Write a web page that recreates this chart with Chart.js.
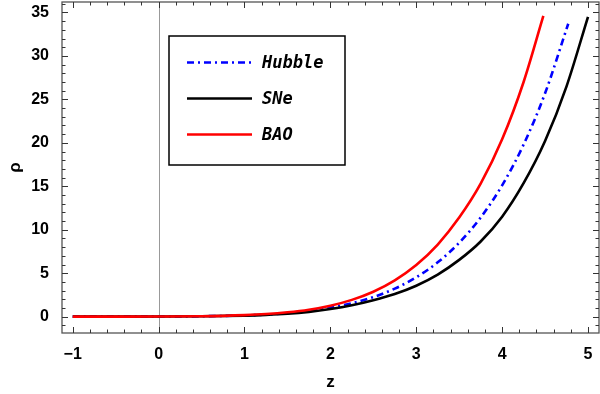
<!DOCTYPE html>
<html>
<head>
<meta charset="utf-8">
<script src="https://cdn.jsdelivr.net/npm/chart.js@4/dist/chart.umd.min.js"></script>
<style>
  html, body { margin: 0; padding: 0; background: #fff; }
  #wrap { width: 600px; height: 394px; position: relative; }
</style>
</head>
<body>
<div id="wrap"><canvas id="rhoChart"></canvas></div>
<script>
// values
const hubbleZ   = [-1, -0.5, 0, 0.5, 1, 1.25, 1.5, 1.75, 2, 2.25, 2.5, 2.75, 3, 3.25, 3.5, 3.75, 4, 4.25, 4.5, 4.77];
const hubbleRho = [0, 0, 0.01, 0.05, 0.14, 0.24, 0.4, 0.66, 1.04, 1.55, 2.25, 3.22, 4.53, 6.25, 8.5, 11.4, 15.1, 19.8, 25.7, 33.7];

const sneZ   = [-1, -0.5, 0, 0.5, 1, 1.25, 1.5, 1.75, 2, 2.25, 2.5, 2.75, 3, 3.25, 3.5, 3.75, 4, 4.25, 4.5, 4.75, 5];
const sneRho = [0, 0, 0.01, 0.04, 0.12, 0.2, 0.33, 0.55, 0.88, 1.32, 1.9, 2.61, 3.56, 4.84, 6.53, 8.65, 11.5, 15.35, 20.2, 26.5, 34.5];

const baoZ   = [-1, -0.5, 0, 0.5, 1, 1.25, 1.5, 1.75, 2, 2.25, 2.5, 2.75, 3, 3.25, 3.5, 3.75, 4, 4.25, 4.48];
const baoRho = [0, 0, 0.01, 0.05, 0.18, 0.3, 0.5, 0.8, 1.26, 1.93, 2.87, 4.18, 5.94, 8.3, 11.4, 15.3, 20.4, 27.0, 34.6];

const xTickValues = [-1, 0, 1, 2, 3, 4, 5];
const xTickLabels = ['\u22121', '0', '1', '2', '3', '4', '5'];
const yTickValues = [0, 5, 10, 15, 20, 25, 30, 35];
const yTickLabels = ['0', '5', '10', '15', '20', '25', '30', '35'];

const legendNames = ['Hubble', 'SNe', 'BAO'];

function toPoints(xs, ys) {
    return xs.map((x, i) => ({ x: x, y: ys[i] }));
}

const tickFont = { family: "'Liberation Sans', Arial, sans-serif", size: 16, weight: 'bold' };

// frame, inward ticks, zero line and the boxed legend, drawn by hand like the original
const framePlugin = {
    id: 'frame',
    beforeDatasetsDraw(chart) {
        const ctx = chart.ctx, a = chart.chartArea, xs = chart.scales.x;
        const x0 = Math.round(xs.getPixelForValue(0)) + 0.5;
        ctx.save();
        ctx.strokeStyle = '#999';
        ctx.lineWidth = 1;
        ctx.beginPath();
        ctx.moveTo(x0, a.top);
        ctx.lineTo(x0, a.bottom);
        ctx.stroke();
        ctx.restore();
    },
    afterDatasetsDraw(chart) {
        const ctx = chart.ctx, a = chart.chartArea;
        const xs = chart.scales.x, ys = chart.scales.y;
        ctx.save();
        ctx.strokeStyle = '#555';
        ctx.lineWidth = 1.3;
        ctx.strokeRect(a.left, a.top, a.right - a.left, a.bottom - a.top);

        ctx.lineWidth = 1;
        ctx.strokeStyle = '#333';
        ctx.beginPath();
        // x ticks, minor every 0.2
        for (let k = -5; k <= 25; k++) {
            const v = k / 5;
            const px = Math.round(xs.getPixelForValue(v)) + 0.5;
            const len = (k % 5 === 0) ? 6 : 3.5;
            ctx.moveTo(px, a.bottom); ctx.lineTo(px, a.bottom - len);
            ctx.moveTo(px, a.top); ctx.lineTo(px, a.top + len);
        }
        // y ticks, minor every 1
        for (let v = -1; v <= 36; v++) {
            const py = Math.round(ys.getPixelForValue(v)) + 0.5;
            const len = (v % 5 === 0) ? 6 : 3.5;
            ctx.moveTo(a.left, py); ctx.lineTo(a.left + len, py);
            ctx.moveTo(a.right, py); ctx.lineTo(a.right - len, py);
        }
        ctx.stroke();

        // legend box
        const bx = 169, by = 36, bw = 176, bh = 129;
        ctx.fillStyle = '#fff';
        ctx.fillRect(bx, by, bw, bh);
        ctx.strokeStyle = '#000';
        ctx.lineWidth = 1.5;
        ctx.strokeRect(bx, by, bw, bh);

        const rows = [62.5, 98.5, 134.5];
        const sets = chart.data.datasets;
        ctx.font = "italic bold 17px 'DejaVu Sans Mono', monospace";
        ctx.textBaseline = 'middle';
        ctx.textAlign = 'left';
        legendNames.forEach((name, i) => {
            const ds = sets.find(d => d.label === name);
            ctx.strokeStyle = ds.borderColor;
            ctx.lineWidth = ds.borderWidth;
            ctx.setLineDash(ds.borderDash || []);
            ctx.beginPath();
            ctx.moveTo(187, rows[i]);
            ctx.lineTo(252, rows[i]);
            ctx.stroke();
            ctx.setLineDash([]);
            ctx.fillStyle = '#000';
            ctx.fillText(name, 262, rows[i] + 1);
        });
        ctx.restore();
    }
};

const ctx = document.getElementById('rhoChart').getContext('2d');

new Chart(ctx, {
    type: 'line',
    data: {
        datasets: [
            {
                label: 'BAO',
                data: toPoints(baoZ, baoRho),
                borderColor: '#ff0000',
                borderWidth: 2.6,
                order: 0
            },
            {
                label: 'SNe',
                data: toPoints(sneZ, sneRho),
                borderColor: '#000000',
                borderWidth: 2.6,
                order: 1
            },
            {
                label: 'Hubble',
                data: toPoints(hubbleZ, hubbleRho),
                borderColor: '#0000ff',
                borderWidth: 2.6,
                borderDash: [7, 4, 2, 4],
                order: 2
            }
        ]
    },
    options: {
        responsive: true,
        maintainAspectRatio: false,
        animation: false,
        layout: { padding: { top: 2, right: 1, left: 0, bottom: 0 } },
        elements: {
            point: { radius: 0 },
            line: { cubicInterpolationMode: 'monotone', fill: false }
        },
        plugins: {
            legend: { display: false },
            tooltip: { enabled: false }
        },
        scales: {
            x: {
                type: 'linear',
                min: -1.125,
                max: 5.128,
                grid: { display: false },
                border: { display: false },
                afterBuildTicks: s => { s.ticks = xTickValues.map(v => ({ value: v })); },
                afterFit: s => { s.height = 61; s.paddingLeft = 0; s.paddingRight = 0; },
                ticks: {
                    autoSkip: false,
                    maxRotation: 0,
                    padding: 4,
                    color: '#000',
                    font: tickFont,
                    callback: (v, i) => xTickLabels[i]
                },
                title: {
                    display: true,
                    text: 'z',
                    color: '#000',
                    font: { family: "'Liberation Sans', Arial, sans-serif", size: 17, weight: 'bold' },
                    padding: { top: 0, bottom: 1 }
                }
            },
            y: {
                type: 'linear',
                min: -1.88,
                max: 36.2,
                grid: { display: false },
                border: { display: false },
                afterBuildTicks: s => { s.ticks = yTickValues.map(v => ({ value: v })); },
                afterFit: s => { s.width = 62; s.paddingTop = 0; s.paddingBottom = 0; },
                ticks: {
                    autoSkip: false,
                    padding: 5,
                    color: '#000',
                    font: tickFont,
                    callback: (v, i) => yTickLabels[i]
                },
                title: {
                    display: true,
                    text: '\u03c1',
                    color: '#000',
                    font: { family: "'Liberation Sans', Arial, sans-serif", size: 17, weight: 'bold' },
                    padding: { top: 5, bottom: 0 }
                }
            }
        }
    },
    plugins: [framePlugin]
});
</script>
</body>
</html>
